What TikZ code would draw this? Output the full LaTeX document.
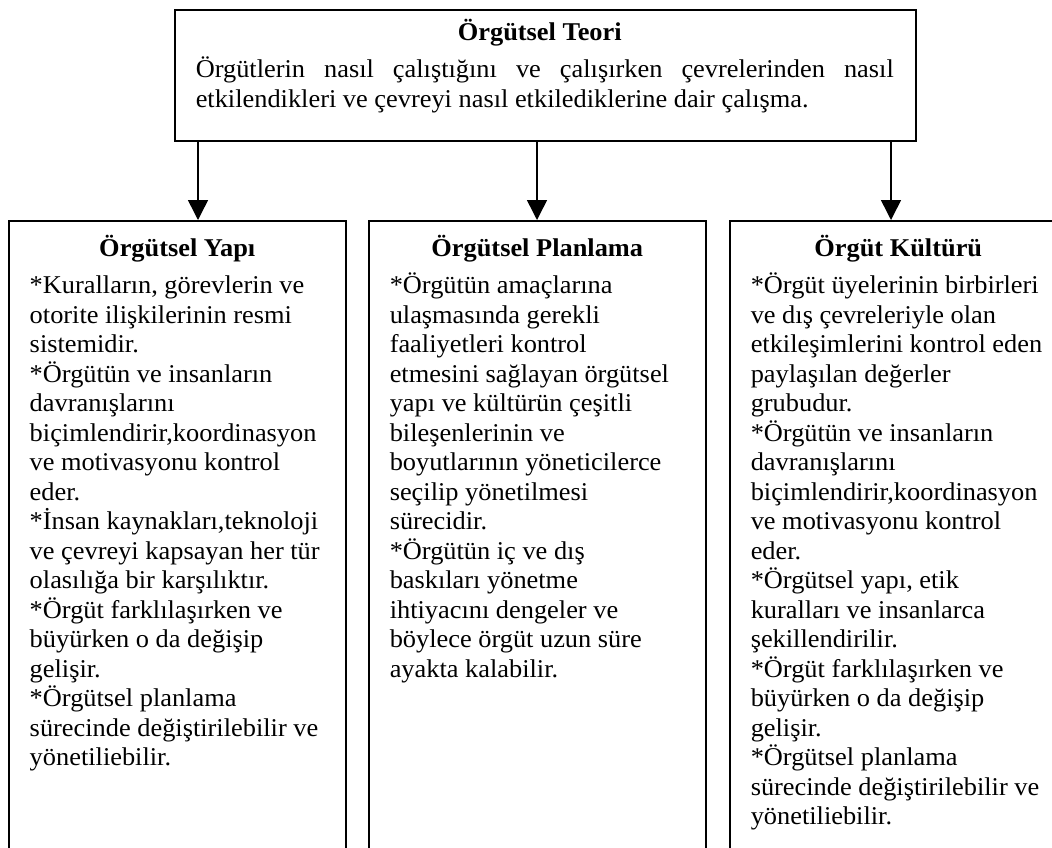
\documentclass[tikz,border=0pt]{standalone}
\usepackage{fontspec}
\setmainfont{Liberation Serif}[FakeStretch=1.03]
\usetikzlibrary{arrows.meta}

\tikzset{
  kutu/.style={draw, line width=1.5pt, anchor=north west, inner sep=0pt},
  ok/.style={line width=1.5pt, -{Triangle[length=20pt,width=20pt]}},
}
% alt kutu icerigi: {baslik}{metin}
\newcommand{\altmetin}[2]{\parbox[t][640pt][t]{337pt}{%
  \parskip=0pt
  \centering\rule{0pt}{36pt}\textbf{#1}\par\vspace{7.5pt}
  \raggedright\leftskip=21pt #2}}

\begin{document}
\begin{tikzpicture}[x=1pt, y=-1pt, font=\fontsize{25.6pt}{29.5pt}\selectfont]
  \useasboundingbox (0,0) rectangle (1052,847);
  \clip (0,0) rectangle (1052,847);

  \node[kutu] (teori) at (174,9) {\parbox[t][131pt][t]{741pt}{%
    \parskip=0pt
    \centering\rule{0pt}{31pt}\textbf{Örgütsel Teori}\hspace*{11pt}\par\vspace{7.5pt}
    \leftskip=21pt \rightskip=22pt \parfillskip=0pt plus 1fil \tolerance=9999
    Örgütlerin nasıl çalıştığını ve çalışırken çevrelerinden nasıl\linebreak
    etkilendikleri ve çevreyi nasıl etkilediklerine dair çalışma.}};

  \node[kutu] (yapi) at (8,220) {\altmetin{Örgütsel Yapı}{%
    *Kuralların, görevlerin ve\\ otorite ilişkilerinin resmi\\ sistemidir.\par
    *Örgütün ve insanların\\ davranışlarını\\ biçimlendirir,koordinasyon\\
    ve motivasyonu kontrol\\ eder.\par
    *İnsan kaynakları,teknoloji\\ ve çevreyi kapsayan her tür\\
    olasılığa bir karşılıktır.\par
    *Örgüt farklılaşırken ve\\ büyürken o da değişip\\ gelişir.\par
    *Örgütsel planlama\\ sürecinde değiştirilebilir ve\\ yönetiliebilir.}};

  \node[kutu] (planlama) at (368,220) {\altmetin{Örgütsel Planlama}{%
    *Örgütün amaçlarına\\ ulaşmasında gerekli\\ faaliyetleri kontrol\\
    etmesini sağlayan örgütsel\\ yapı ve kültürün çeşitli\\
    bileşenlerinin ve\\ boyutlarının yöneticilerce\\ seçilip yönetilmesi\\
    sürecidir.\par
    *Örgütün iç ve dış\\ baskıları yönetme\\ ihtiyacını dengeler ve\\
    böylece örgüt uzun süre\\ ayakta kalabilir.}};

  \node[kutu] (kultur) at (729,220) {\altmetin{Örgüt Kültürü}{%
    *Örgüt üyelerinin birbirleri\\ ve dış çevreleriyle olan\\
    etkileşimlerini kontrol eden\\ paylaşılan değerler\\ grubudur.\par
    *Örgütün ve insanların\\ davranışlarını\\ biçimlendirir,koordinasyon\\
    ve motivasyonu kontrol\\ eder.\par
    *Örgütsel yapı, etik\\ kuralları ve insanlarca\\ şekillendirilir.\par
    *Örgüt farklılaşırken ve\\ büyürken o da değişip\\ gelişir.\par
    *Örgütsel planlama\\ sürecinde değiştirilebilir ve\\ yönetiliebilir.}};

  % oklar
  \coordinate (o1) at (198,0);
  \coordinate (o2) at (537,0);
  \coordinate (o3) at (891,0);
  \draw[ok] (teori.south -| o1) -- (yapi.north -| o1);
  \draw[ok] (teori.south -| o2) -- (planlama.north -| o2);
  \draw[ok] (teori.south -| o3) -- (kultur.north -| o3);
\end{tikzpicture}
\end{document}
